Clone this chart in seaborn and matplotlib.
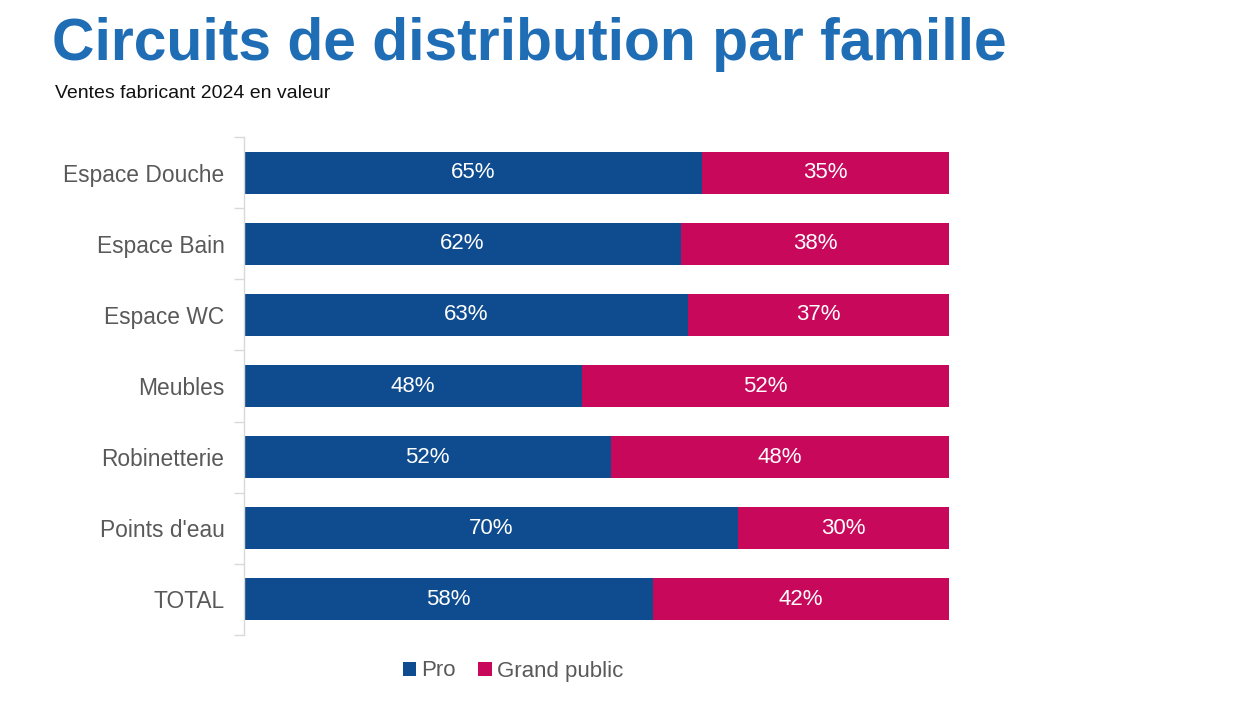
import matplotlib
matplotlib.use("Agg")
import matplotlib.pyplot as plt
from matplotlib.patches import Patch
import seaborn as sns
import pandas as pd

categories = ["Espace Douche", "Espace Bain", "Espace WC", "Meubles", "Robinetterie", "Points d'eau", "TOTAL"]
pro = [65, 62, 63, 48, 52, 70, 58]
grand_public = [35, 38, 37, 52, 48, 30, 42]
series_names = ["Pro", "Grand public"]
title = "Circuits de distribution par famille"
subtitle = "Ventes fabricant 2024 en valeur"

BLUE = "#0F4C8F"
PINK = "#C8085A"
TITLE_BLUE = "#1F6DB5"
GRAY = "#595959"

sns.set_theme(style="white")
plt.rcParams["font.family"] = ["Liberation Sans", "DejaVu Sans"]

df = pd.DataFrame({"cat": categories, "pro": pro, "gp": grand_public})
df["total"] = df["pro"] + df["gp"]

fig = plt.figure(figsize=(12.54, 7.02), dpi=100)
ax = fig.add_axes([0.1946, 0.0954, 0.7568 - 0.1946, 0.8048 - 0.0954])

sns.barplot(data=df, y="cat", x="total", color=PINK, saturation=1, width=0.59,
            linewidth=0, ax=ax, orient="h")
sns.barplot(data=df, y="cat", x="pro", color=BLUE, saturation=1, width=0.59,
            linewidth=0, ax=ax, orient="h")

for i, (p, g) in enumerate(zip(pro, grand_public)):
    ax.text(p / 2, i, f"{p}%", ha="center", va="center", color="white", fontsize=16)
    ax.text(p + g / 2, i, f"{g}%", ha="center", va="center", color="white", fontsize=16)

ax.set_xlim(0, 100)
ax.set_ylim(len(categories) - 0.5, -0.5)
ax.set_xlabel("")
ax.set_ylabel("")
ax.set_xticks([])
for s in ["top", "right", "bottom"]:
    ax.spines[s].set_visible(False)
ax.spines["left"].set_color("#D9D9D9")
ax.spines["left"].set_linewidth(1)
ax.tick_params(axis="y", which="major", length=0, pad=14, labelsize=16.4, labelcolor=GRAY)
ax.set_yticks([i - 0.5 for i in range(len(categories) + 1)], minor=True)
ax.tick_params(axis="y", which="minor", length=7, color="#D9D9D9", width=1, left=True)

fig.text(52 / 1254, 1 - 44 / 702, title, fontsize=42.4, fontweight="bold",
         color=TITLE_BLUE, ha="left", va="center")
fig.text(55 / 1254, 1 - 93 / 702, subtitle, fontsize=14, color="#111111",
         ha="left", va="center")

handles = [Patch(facecolor=BLUE, edgecolor="none"), Patch(facecolor=PINK, edgecolor="none")]
leg = fig.legend(handles, series_names, loc="center", bbox_to_anchor=(513 / 1254, 1 - 671 / 702),
                 ncol=2, frameon=False, fontsize=16, handlelength=0.6, handleheight=0.6,
                 handletextpad=0.25, columnspacing=1.0)
for t in leg.get_texts():
    t.set_color(GRAY)

fig.savefig("out.png", dpi=100)
